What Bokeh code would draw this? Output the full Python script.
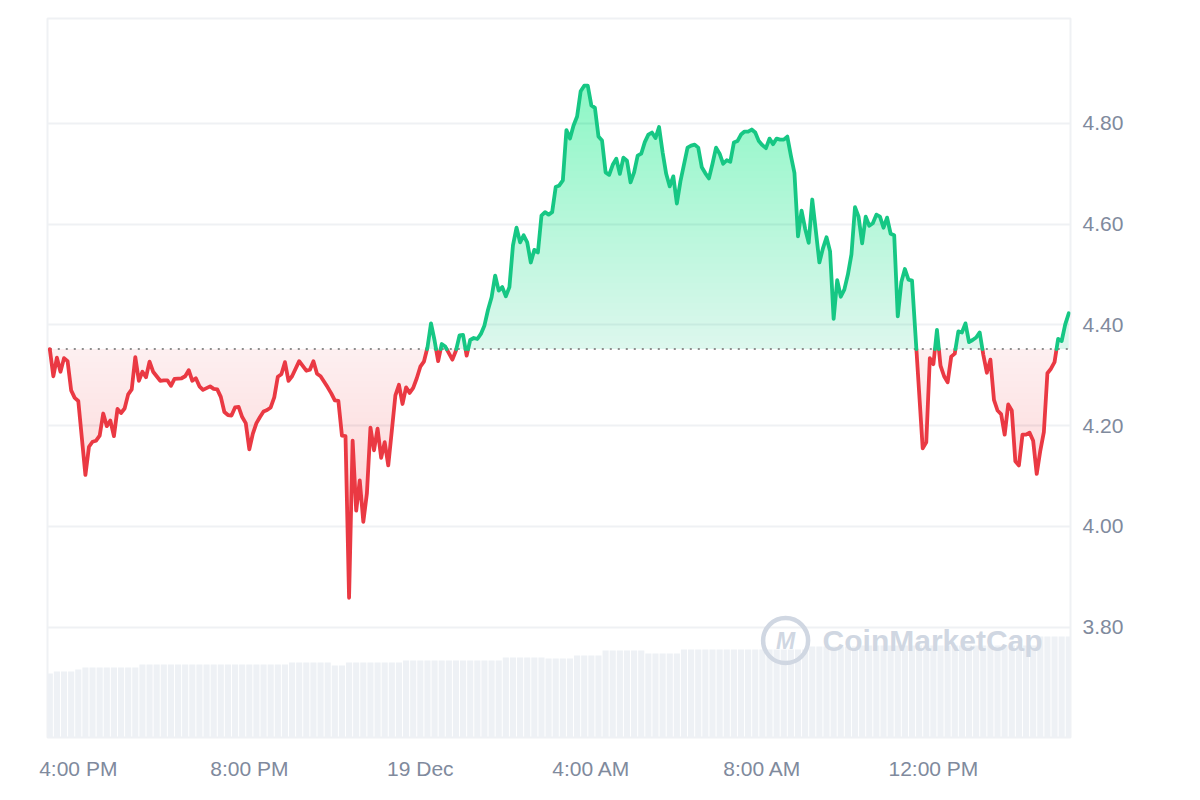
import numpy as np
from bokeh.plotting import figure
from bokeh.models import Range1d, FixedTicker, NumeralTickFormatter, Label
from bokeh.embed import file_html
from bokeh.resources import INLINE

# ---------------- data ----------------
START = "2024-12-18T15:20"
minutes = [0, 5, 10, 15, 20, 25, 30, 35, 40, 50, 55, 60, 65, 70, 75, 80, 85, 90, 95, 100,
           105, 110, 115, 120, 125, 130, 135, 140, 145, 155, 160, 165, 170, 175, 185, 190, 195, 200, 205, 210,
           215, 225, 230, 235, 240, 245, 250, 255, 260, 265, 270, 275, 280, 285, 290, 295, 300, 305, 310, 315,
           320, 325, 330, 335, 340, 350, 360, 365, 370, 375, 380, 390, 395, 400, 405, 410, 415, 420, 425, 430,
           435, 440, 445, 450, 455, 460, 465, 470, 475, 480, 485, 490, 495, 500, 505, 510, 515, 520, 525, 530,
           535, 540, 545, 550, 555, 565, 570, 575, 580, 585, 590, 595, 600, 605, 610, 615, 620, 625, 630, 635,
           640, 645, 650, 655, 660, 665, 670, 675, 680, 685, 690, 695, 700, 705, 710, 715, 720, 725, 730, 735,
           740, 745, 750, 755, 760, 765, 770, 775, 780, 785, 790, 795, 800, 805, 810, 815, 820, 825, 830, 835,
           840, 845, 850, 855, 860, 865, 870, 875, 880, 885, 895, 900, 905, 910, 915, 920, 925, 930, 935, 940,
           945, 950, 955, 960, 965, 970, 975, 980, 985, 990, 995, 1000, 1005, 1010, 1015, 1020, 1025, 1030, 1035, 1040,
           1045, 1050, 1055, 1060, 1065, 1070, 1075, 1080, 1085, 1090, 1095, 1100, 1105, 1110, 1115, 1120, 1125, 1130, 1135, 1140,
           1145, 1150, 1155, 1160, 1165, 1170, 1175, 1180, 1185, 1190, 1195, 1200, 1205, 1210, 1225, 1230, 1235, 1240, 1245, 1250,
           1255, 1260, 1265, 1270, 1275, 1280, 1285, 1290, 1295, 1300, 1305, 1310, 1315, 1320, 1325, 1330, 1335, 1340, 1345, 1350,
           1355, 1360, 1365, 1370, 1375, 1380, 1385, 1390, 1395, 1400, 1405, 1410, 1415, 1420, 1425, 1430]
prices = [4.352, 4.298, 4.335, 4.307, 4.334, 4.328, 4.270, 4.255, 4.249, 4.102, 4.158, 4.168, 4.170, 4.180, 4.224, 4.199, 4.210, 4.179, 4.233, 4.225,
          4.234, 4.262, 4.272, 4.336, 4.289, 4.307, 4.296, 4.327, 4.307, 4.289, 4.290, 4.290, 4.279, 4.293, 4.294, 4.298, 4.310, 4.289, 4.294, 4.278,
          4.271, 4.278, 4.273, 4.272, 4.257, 4.227, 4.221, 4.220, 4.236, 4.237, 4.217, 4.205, 4.153, 4.184, 4.205, 4.217, 4.228, 4.231, 4.236, 4.256,
          4.297, 4.302, 4.326, 4.289, 4.298, 4.328, 4.309, 4.311, 4.328, 4.303, 4.298, 4.276, 4.264, 4.250, 4.249, 4.180, 4.179, 3.858, 4.170, 4.031,
          4.091, 4.009, 4.065, 4.196, 4.151, 4.194, 4.136, 4.167, 4.121, 4.190, 4.260, 4.281, 4.243, 4.276, 4.265, 4.275, 4.294, 4.317, 4.327, 4.355,
          4.403, 4.369, 4.328, 4.362, 4.357, 4.331, 4.349, 4.379, 4.380, 4.339, 4.370, 4.374, 4.372, 4.382, 4.399, 4.430, 4.455, 4.498, 4.468, 4.475,
          4.457, 4.475, 4.558, 4.593, 4.564, 4.578, 4.564, 4.524, 4.549, 4.544, 4.617, 4.624, 4.619, 4.624, 4.674, 4.677, 4.687, 4.787, 4.770, 4.796,
          4.814, 4.864, 4.875, 4.875, 4.836, 4.831, 4.774, 4.766, 4.703, 4.698, 4.718, 4.730, 4.700, 4.732, 4.726, 4.683, 4.703, 4.736, 4.740, 4.763,
          4.778, 4.782, 4.771, 4.793, 4.743, 4.700, 4.675, 4.695, 4.641, 4.685, 4.752, 4.756, 4.758, 4.752, 4.713, 4.701, 4.691, 4.720, 4.752, 4.740,
          4.720, 4.727, 4.724, 4.762, 4.765, 4.778, 4.784, 4.784, 4.788, 4.782, 4.765, 4.757, 4.751, 4.770, 4.759, 4.770, 4.768, 4.768, 4.774, 4.736,
          4.702, 4.576, 4.627, 4.591, 4.563, 4.649, 4.587, 4.524, 4.552, 4.574, 4.546, 4.412, 4.489, 4.456, 4.470, 4.500, 4.540, 4.634, 4.615, 4.562,
          4.615, 4.597, 4.602, 4.619, 4.615, 4.593, 4.613, 4.581, 4.578, 4.417, 4.485, 4.511, 4.490, 4.488, 4.155, 4.167, 4.334, 4.322, 4.390, 4.319,
          4.298, 4.286, 4.337, 4.343, 4.387, 4.385, 4.403, 4.366, 4.370, 4.375, 4.385, 4.341, 4.305, 4.331, 4.251, 4.230, 4.223, 4.182, 4.242, 4.230,
          4.129, 4.121, 4.182, 4.182, 4.186, 4.170, 4.104, 4.150, 4.187, 4.304, 4.313, 4.326, 4.372, 4.368, 4.401, 4.423]

# volume (millions USD), one bar per 10 minutes from START
volume_step_minutes = 10
volumes = [320, 330, 330, 330, 340, 350, 350, 350, 350, 350, 350, 350, 350, 365, 365, 365, 365, 365, 365, 365,
           365, 365, 365, 365, 365, 365, 365, 365, 365, 365, 365, 365, 365, 365, 375, 375, 375, 375, 375, 375,
           360, 360, 375, 375, 375, 375, 375, 375, 375, 375, 385, 385, 385, 385, 385, 385, 385, 385, 385, 385,
           385, 385, 385, 385, 400, 400, 400, 400, 400, 400, 395, 395, 395, 395, 410, 410, 410, 410, 435, 435,
           435, 435, 435, 435, 420, 420, 420, 420, 420, 440, 440, 440, 440, 440, 440, 440, 440, 440, 440, 440,
           440, 440, 440, 440, 440, 440, 440, 455, 455, 455, 455, 455, 455, 455, 460, 460, 460, 460, 460, 460,
           460, 460, 460, 460, 460, 460, 460, 460, 460, 460, 460, 460, 460, 460, 460, 460, 460, 460, 460, 505,
           505, 505, 505, 505]

x_tick_times = ["2024-12-18T16:00", "2024-12-18T20:00", "2024-12-19T00:00",
                "2024-12-19T04:00", "2024-12-19T08:00", "2024-12-19T12:00"]
x_tick_labels = ["4:00 PM", "8:00 PM", "19 Dec", "4:00 AM", "8:00 AM", "12:00 PM"]
y_ticks = [3.80, 4.00, 4.20, 4.40, 4.60, 4.80]

# ---------------- helpers ----------------
GREEN = "#16c784"
RED = "#ea3943"
LABEL = "#808a9d"
GRID = "#eff1f4"
MIN_MS = 60_000.0


def to_ms(s):
    return float(np.datetime64(s, "ms").astype("int64"))


t0 = to_ms(START)
t = np.array([t0 + m * MIN_MS for m in minutes])
pr = np.array(prices)
base = pr[0]

# insert baseline crossings so colours switch exactly at the baseline
tx, ty = [t[0]], [pr[0]]
for i in range(1, len(pr)):
    p0, p1 = pr[i - 1], pr[i]
    if (p0 - base) * (p1 - base) < 0:
        f = (base - p0) / (p1 - p0)
        tx.append(t[i - 1] + f * (t[i] - t[i - 1]))
        ty.append(base)
    tx.append(t[i])
    ty.append(p1)
tx = np.array(tx)
ty = np.array(ty)

up = np.where(ty >= base, ty, np.nan)
dn = np.where(ty <= base, ty, np.nan)

x_start = t[0] - 3.2 * MIN_MS
x_end = t[-1] + 2.4 * MIN_MS
y_lo, y_hi = 3.5806, 5.0085

p = figure(frame_width=1023, frame_height=719, x_axis_type="datetime",
           y_axis_location="right", output_backend="svg", toolbar_location=None,
           x_range=Range1d(x_start, x_end), y_range=Range1d(y_lo, y_hi),
           min_border_left=47, min_border_top=18, min_border_right=110, min_border_bottom=55,
           background_fill_color="white", border_fill_color="white")
p.outline_line_color = GRID
p.outline_line_width = 2

# volume bars on their own hidden scale
p.extra_y_ranges = {"vol": Range1d(0, 3595)}
vt = np.array([t0 + k * volume_step_minutes * MIN_MS for k in range(len(volumes))])
p.vbar(x=vt, width=volume_step_minutes * MIN_MS * 0.86, top=volumes, bottom=0,
       y_range_name="vol", fill_color="#eef1f5", line_color=None)

# gradient-like fills (stacked translucent layers)
N = 40
up_y = np.maximum(ty, base)
top_v = up_y.max()
a_rest = 1 - (0.66 / 0.85) ** (1 / (N - 1))
for k in range(N):
    lo = base + (top_v - base) * k / N
    p.varea(x=tx, y1=lo, y2=np.maximum(up_y, lo), fill_color=GREEN,
            fill_alpha=0.15 if k == 0 else a_rest)

dn_y = np.minimum(ty, base)
bot_v = dn_y.min()
a_rest_r = 1 - (0.84 / 0.92) ** (1 / (N - 1))
for k in range(N):
    lo = base - (base - bot_v) * k / N
    p.varea(x=tx, y1=lo, y2=np.minimum(dn_y, lo), fill_color=RED,
            fill_alpha=0.08 if k == 0 else a_rest_r)

# baseline (opening price)
p.line(x=[t[0], t[-1]], y=[base, base], line_color="#8e8e8e", line_width=2, line_dash="2 6")

# price line
p.line(x=tx, y=dn, line_color=RED, line_width=3.8, line_join="round", line_cap="round")
p.line(x=tx, y=up, line_color=GREEN, line_width=3.8, line_join="round", line_cap="round")

# watermark
wm_color = "#d0d7e2"
logo_t = t0 + 1032.6 * MIN_MS
p.scatter(x=[logo_t], y=[3.773], marker="circle", size=45, fill_color=None,
          line_color=wm_color, line_width=4.5)
p.add_layout(Label(x=logo_t, y=3.773, text="M", text_font="Liberation Sans",
                   text_font_style="bold italic", text_font_size="23px", text_color=wm_color,
                   text_align="center", text_baseline="middle"))
p.add_layout(Label(x=t0 + 1084.5 * MIN_MS, y=3.773, text="CoinMarketCap",
                   text_font="Liberation Sans", text_font_style="bold", text_font_size="30px",
                   text_color=wm_color, text_align="left", text_baseline="middle"))

# axes
xt = [to_ms(s) for s in x_tick_times]
p.xaxis.ticker = FixedTicker(ticks=xt)
p.xaxis.major_label_overrides = {v: lab for v, lab in zip(xt, x_tick_labels)}
p.yaxis.ticker = FixedTicker(ticks=y_ticks)
p.yaxis.formatter = NumeralTickFormatter(format="0.00")
for ax in (p.xaxis, p.yaxis):
    ax.axis_line_color = None
    ax.major_tick_line_color = None
    ax.minor_tick_line_color = None
    ax.major_tick_out = 0
    ax.major_tick_in = 0
    ax.major_label_text_font = "Liberation Sans"
    ax.major_label_text_font_size = "21px"
    ax.major_label_text_color = LABEL
p.xaxis.major_label_standoff = 19
p.yaxis.major_label_standoff = 12

p.xgrid.grid_line_color = None
p.ygrid.ticker = FixedTicker(ticks=y_ticks)
p.ygrid.grid_line_color = GRID
p.ygrid.grid_line_width = 2

open("out.html", "w").write(file_html(p, INLINE))
